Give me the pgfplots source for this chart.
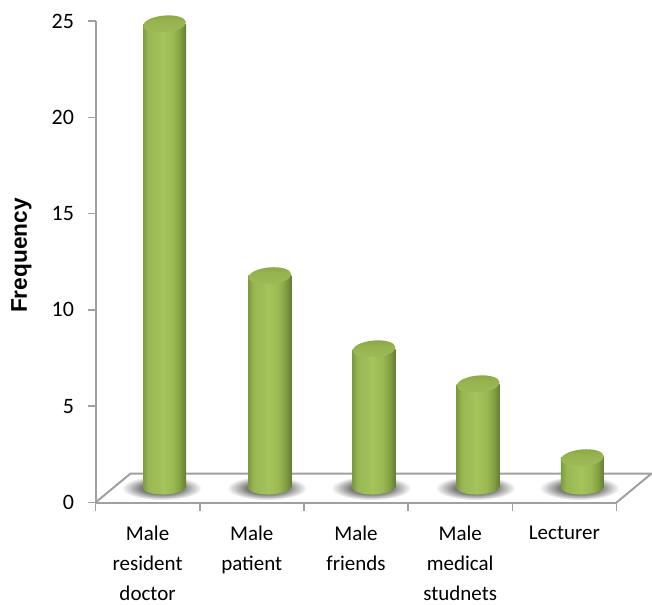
\documentclass[border=0pt]{standalone}
\usepackage{pgfplots}
\pgfplotsset{compat=1.18}
\usepackage{fontspec}
\setmainfont{Carlito}
\newfontfamily\arialbold{Liberation Sans}[BoldFont={Liberation Sans Bold}]

% Cylinder surfaces
\definecolor{cylA}{RGB}{126,156,64}
\definecolor{cylB}{RGB}{152,182,82}
\definecolor{cylC}{RGB}{165,196,92}
\definecolor{cylD}{RGB}{154,185,82}
\definecolor{cylE}{RGB}{130,160,66}
\definecolor{cylF}{RGB}{98,126,50}
\definecolor{capA}{RGB}{184,208,124}
\definecolor{capB}{RGB}{158,186,86}
\definecolor{capC}{RGB}{150,178,78}
\definecolor{capD}{RGB}{138,166,70}
\definecolor{shadowA}{RGB}{105,105,105}
\definecolor{shadowB}{RGB}{125,125,125}
\pgfdeclarehorizontalshading{cylbody}{100bp}{
  color(0bp)=(cylA);
  color(25bp)=(cylA);
  color(31bp)=(cylB);
  color(48bp)=(cylC);
  color(60bp)=(cylD);
  color(68bp)=(cylE);
  color(75bp)=(cylF);
  color(100bp)=(cylF)}
\pgfdeclareverticalshading{capfill}{100bp}{
  color(0bp)=(capA);
  color(25bp)=(capA);
  color(31bp)=(capB);
  color(60bp)=(capC);
  color(75bp)=(capD);
  color(100bp)=(capD)}
\pgfdeclareradialshading{floorshadow}{\pgfpointorigin}{
  color(0bp)=(shadowA);
  color(13bp)=(shadowB);
  color(25bp)=(white);
  color(50bp)=(white)}

\pgfdeclareplotmark{cyl top}{%
  \pgfpathellipse{\pgfpointorigin}{\pgfqpoint{21.4pt}{1.9pt}}{\pgfqpoint{-0.7pt}{8.5pt}}%
  \pgfshadepath{capfill}{0}\pgfusepath{discard}}
\pgfdeclareplotmark{cyl base}{%
  \pgfpathellipse{\pgfpointorigin}{\pgfqpoint{21.5pt}{0.7pt}}{\pgfqpoint{-0.3pt}{7.5pt}}%
  \pgfshadepath{cylbody}{0}\pgfusepath{discard}}
\pgfdeclareplotmark{cyl shadow}{%
  \pgfpathellipse{\pgfqpoint{-3pt}{-1pt}}{\pgfqpoint{40pt}{0pt}}{\pgfqpoint{0pt}{12pt}}%
  \pgfshadepath{floorshadow}{0}\pgfusepath{discard}}

\pgfplotstableread{
pos  freq
0.663 24.84
1.673 11.75
2.673 7.95
3.673 6.13
4.673 2.29
}\frequencies
\pgfplotstableread{
pos  floor
0.663 0.78
1.673 0.78
2.673 0.78
3.673 0.78
4.673 0.78
}\bases

\definecolor{axisgray}{RGB}{160,160,160}

\pgfplotsset{
  cylinder layer/.style={
    at={(95.5pt,-487pt)}, anchor=south west,
    scale only axis, width=521pt, height=466pt,
    xmin=0, xmax=5, ymin=0.78, ymax=25,
    clip=false, hide axis},
  cylinder/.style={ybar, bar width=43pt, bar shift=0pt, draw=none, shade, shading=cylbody},
}

\begin{document}
\begin{tikzpicture}[x=1pt,y=1pt]
\path[use as bounding box] (0,0) rectangle (652,-604);

% Frame, ticks, labels and the floor
\begin{axis}[
  at={(95.5pt,-502.5pt)}, anchor=south west,
  scale only axis, width=521pt, height=481.5pt,
  xmin=0, xmax=5, ymin=0, ymax=25,
  clip=false,
  axis x line=bottom, axis y line=left,
  axis line style={draw=axisgray, line width=2pt, -},
  tick style={draw=axisgray, line width=1.6pt},
  xtick={0.5,1.5,2.5,3.5,4.5},
  xticklabels={{Male\\resident\\doctor},{Male\\patient},{Male\\friends},{Male\\medical\\studnets},{Lecturer}},
  minor xtick={0,1,2,3,4,5},
  ytick={0,5,...,25},
  major x tick style={draw=none},
  minor tick length=8pt,
  major tick length=7pt,
  tick align=outside,
  xtick pos=lower, ytick pos=left,
  x tick label style={font=\fontsize{21}{30}\selectfont, align=center, anchor=north, yshift=-12.5pt},
  y tick label style={font=\fontsize{22}{24}\selectfont, anchor=east, xshift=-11pt},
  /pgf/number format/assume math mode=true,
  every axis y label/.style={at={(axis description cs:-0.142,0.513)},rotate=90,anchor=center},
  ylabel={\arialbold\fontsize{22.7}{24}\selectfont\bfseries Frequency},
]
\addplot[draw=axisgray, line width=2pt, line join=round] coordinates {
  (0,0) (0.335,1.5) (5.335,1.5) (5,0)
};
\end{axis}

% Shadows and rounded feet on the floor
\begin{axis}[cylinder layer]
\addplot[only marks, mark=cyl shadow] table[x=pos,y=floor] {\bases};
\addplot[only marks, mark=cyl base] table[x=pos,y=floor] {\bases};
\end{axis}

% Cylinder bodies, each shaded on its own, with their caps on top
\begin{axis}[cylinder layer]
\addplot[cylinder] coordinates {(0.663,24.84)};
\addplot[cylinder] coordinates {(1.673,11.75)};
\addplot[cylinder] coordinates {(2.673,7.95)};
\addplot[cylinder] coordinates {(3.673,6.13)};
\addplot[cylinder] coordinates {(4.673,2.29)};
\addplot[only marks, mark=cyl top] table[x=pos,y=freq] {\frequencies};
\end{axis}
\end{tikzpicture}
\end{document}
